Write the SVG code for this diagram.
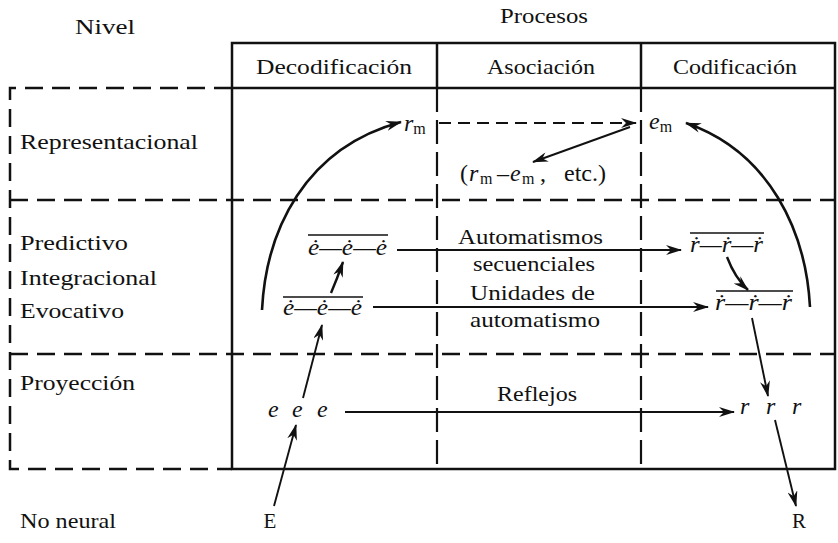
<svg xmlns="http://www.w3.org/2000/svg" width="838" height="543" viewBox="0 0 838 543">
<defs>
<style>
.t{font-family:"Liberation Serif","Times New Roman",serif;font-size:21px;fill:#111}
.m{font-family:"Liberation Serif","DejaVu Serif",serif;font-style:italic;font-size:24px;fill:#111}
.sub{font-family:"Liberation Serif","DejaVu Serif",serif;font-size:16px;font-style:normal;fill:#111}
.solid{stroke:#111;stroke-width:2.5;fill:none}
.dash{stroke:#111;stroke-width:2.5;fill:none;stroke-dasharray:18 9}
.vdash{stroke:#111;stroke-width:2.2;fill:none;stroke-dasharray:24 8}
.ar{stroke:#111;stroke-width:1.9;fill:none;marker-end:url(#ah)}
.cv{stroke:#111;stroke-width:2.6;fill:none;marker-end:url(#ah)}
.ov{stroke:#111;stroke-width:1.6}
</style>
<marker id="ah" viewBox="0 0 16 10" refX="15" refY="5" markerWidth="16" markerHeight="10" markerUnits="userSpaceOnUse" orient="auto-start-reverse"><path d="M0,0 L16,5 L0,10 L5,5 z" fill="#111"/></marker>
</defs>

<g id="frame">
<rect x="232" y="43" width="603" height="426" class="solid"/>
<line x1="232" y1="88" x2="835" y2="88" class="solid"/>
<line x1="437" y1="43" x2="437" y2="88" class="solid"/>
<line x1="641" y1="43" x2="641" y2="88" class="solid"/>
<line x1="437" y1="88" x2="437" y2="469" class="vdash"/>
<line x1="641" y1="88" x2="641" y2="469" class="vdash"/>
<path d="M232,88 H10 V469 H232" class="dash"/>
<line x1="10" y1="200" x2="835" y2="200" class="dash"/>
<line x1="10" y1="354" x2="835" y2="354" class="dash"/>
</g>

<g id="headers">
<text class="t" x="500" y="23" textLength="88" lengthAdjust="spacingAndGlyphs">Procesos</text>
<text class="t" x="75" y="34" textLength="60" lengthAdjust="spacingAndGlyphs">Nivel</text>
<text class="t" x="256" y="74" textLength="156" lengthAdjust="spacingAndGlyphs">Decodificación</text>
<text class="t" x="487" y="74" textLength="108" lengthAdjust="spacingAndGlyphs">Asociación</text>
<text class="t" x="673" y="74" textLength="124" lengthAdjust="spacingAndGlyphs">Codificación</text>
</g>

<g id="levels">
<text class="t" x="20" y="149" textLength="178" lengthAdjust="spacingAndGlyphs">Representacional</text>
<text class="t" x="20" y="250" textLength="108" lengthAdjust="spacingAndGlyphs">Predictivo</text>
<text class="t" x="20" y="285" textLength="137" lengthAdjust="spacingAndGlyphs">Integracional</text>
<text class="t" x="20" y="318" textLength="104" lengthAdjust="spacingAndGlyphs">Evocativo</text>
<text class="t" x="20" y="390" textLength="115" lengthAdjust="spacingAndGlyphs">Proyección</text>
<text class="t" x="20" y="528" textLength="96" lengthAdjust="spacingAndGlyphs">No neural</text>
</g>

<g id="rm"><text class="m" x="404" y="131">r<tspan class="sub" dy="3">m</tspan></text></g>
<g id="em"><text class="m" x="649" y="129">e<tspan class="sub" dy="3">m</tspan></text></g>
<g id="rm-em-etc"><text class="t" y="181" style="font-size:24px"><tspan x="460">(</tspan><tspan class="m" x="469">r</tspan><tspan class="sub" x="480" dy="3">m</tspan><tspan x="497" dy="-3">–</tspan><tspan class="m" x="510">e</tspan><tspan class="sub" x="522" dy="3">m</tspan><tspan x="540" dy="-3">,</tspan><tspan x="564">etc.)</tspan></text></g>

<g id="e-pred"><text class="m" x="308" y="255" textLength="79" lengthAdjust="spacingAndGlyphs">ė—ė—ė</text><line x1="308" y1="235" x2="388" y2="235" class="ov"/></g>
<g id="e-evoc"><text class="m" x="283" y="315" textLength="79" lengthAdjust="spacingAndGlyphs">ė—ė—ė</text><line x1="283" y1="297" x2="363" y2="297" class="ov"/></g>
<g id="e-proy"><text class="m" x="268" y="417">e</text><text class="m" x="292" y="417">e</text><text class="m" x="317" y="417">e</text></g>
<g id="r-pred"><text class="m" x="690" y="252" textLength="73" lengthAdjust="spacingAndGlyphs">ṙ—ṙ—ṙ</text><line x1="690" y1="233" x2="764" y2="233" class="ov"/></g>
<g id="r-evoc"><text class="m" x="715" y="310" textLength="77" lengthAdjust="spacingAndGlyphs">ṙ—ṙ—ṙ</text><line x1="716" y1="291" x2="793" y2="291" class="ov"/></g>
<g id="r-proy"><text class="m" x="740" y="414">r</text><text class="m" x="766" y="414">r</text><text class="m" x="792" y="414">r</text></g>
<g id="E"><text class="t" x="270" y="528" text-anchor="middle">E</text></g>
<g id="R"><text class="t" x="799" y="528" text-anchor="middle">R</text></g>

<g id="labels">
<text class="t" x="458" y="244" textLength="145" lengthAdjust="spacingAndGlyphs">Automatismos</text>
<text class="t" x="473" y="271" textLength="122" lengthAdjust="spacingAndGlyphs">secuenciales</text>
<text class="t" x="470" y="300" textLength="125" lengthAdjust="spacingAndGlyphs">Unidades de</text>
<text class="t" x="470" y="327" textLength="130" lengthAdjust="spacingAndGlyphs">automatismo</text>
<text class="t" x="497" y="401" textLength="80" lengthAdjust="spacingAndGlyphs">Reflejos</text>
</g>

<g id="connectors">
<line x1="439" y1="123" x2="636" y2="123" class="ar" style="stroke-dasharray:12 7"/>
<line x1="630" y1="127" x2="533" y2="162" class="ar"/>
<path d="M262,310 C266,230 305,148 401,122" class="cv"/>
<path d="M810,307 C806,232 770,152 686,123" class="cv"/>
<line x1="397" y1="250" x2="681" y2="250" class="ar"/>
<line x1="373" y1="307" x2="708" y2="307" class="ar"/>
<line x1="345" y1="412" x2="734" y2="412" class="ar"/>
<path d="M331,293 Q337,279 343,262" class="ar" style="stroke-width:2.4"/>
<path d="M727,257 Q735,278 748,290" class="ar" style="stroke-width:2.4"/>
<line x1="303" y1="398" x2="322" y2="325" class="ar"/>
<line x1="274" y1="506" x2="296" y2="425" class="ar"/>
<line x1="752" y1="318" x2="768" y2="396" class="ar"/>
<line x1="775" y1="420" x2="796" y2="506" class="ar"/>
</g>
</svg>
